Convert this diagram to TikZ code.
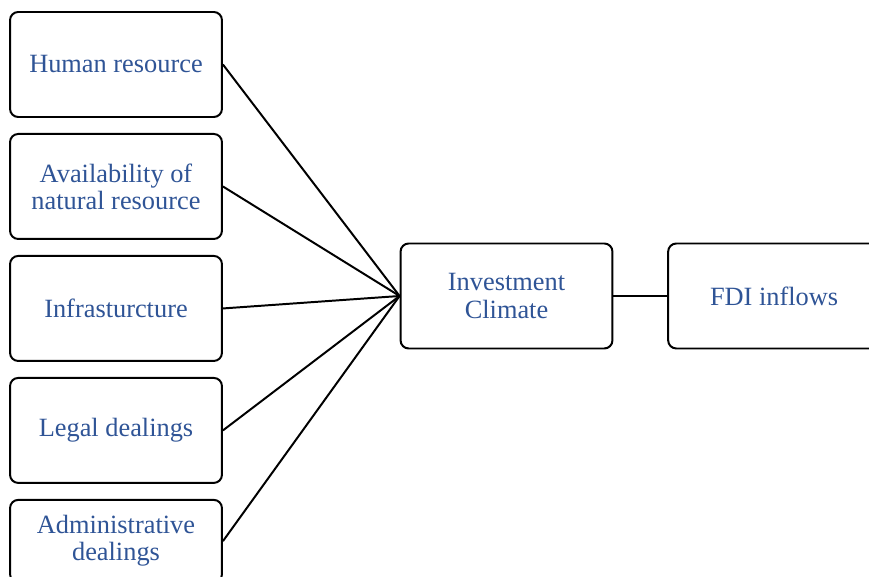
\documentclass[tikz,border=0pt]{standalone}
\usepackage{fontspec}
\setmainfont{Liberation Serif}
\usetikzlibrary{positioning}
\definecolor{labelblue}{HTML}{2F5496}

\begin{document}
\begin{tikzpicture}[
    factor/.style={draw, rounded corners=0.13cm, line width=0.9pt,
        minimum width=3.39cm, minimum height=1.68cm, align=center,
        text=labelblue, font=\fontsize{12}{12.3}\selectfont},
    link/.style={line width=0.9pt}]
\clip (0,0) rectangle (13.904,-9.232);
%
\node [factor] (human) at (1.856,-1.032) {Human resource};
\node [factor, below=0.24cm of human] (natural) {Availability of\\natural resource};
\node [factor, below=0.24cm of natural] (infra) {Infrasturcture};
\node [factor, below=0.24cm of infra] (legal) {Legal dealings};
\node [factor, minimum height=1.32cm, below=0.24cm of legal] (admin) {Administrative\\dealings};
%
\node [factor] (climate) at (8.104,-4.736) {Investment\\Climate};
\node [factor, right=0.86cm of climate] (fdi) {FDI inflows};
%
\foreach \f in {human, natural, infra, legal, admin}
    \draw [link] (\f.east) -- (climate.west);
\draw [link] (climate) -- (fdi);
%%%%%%%%%%%%%%%%%%%%%%%%%%%%%%%
\end{tikzpicture}
\end{document}
